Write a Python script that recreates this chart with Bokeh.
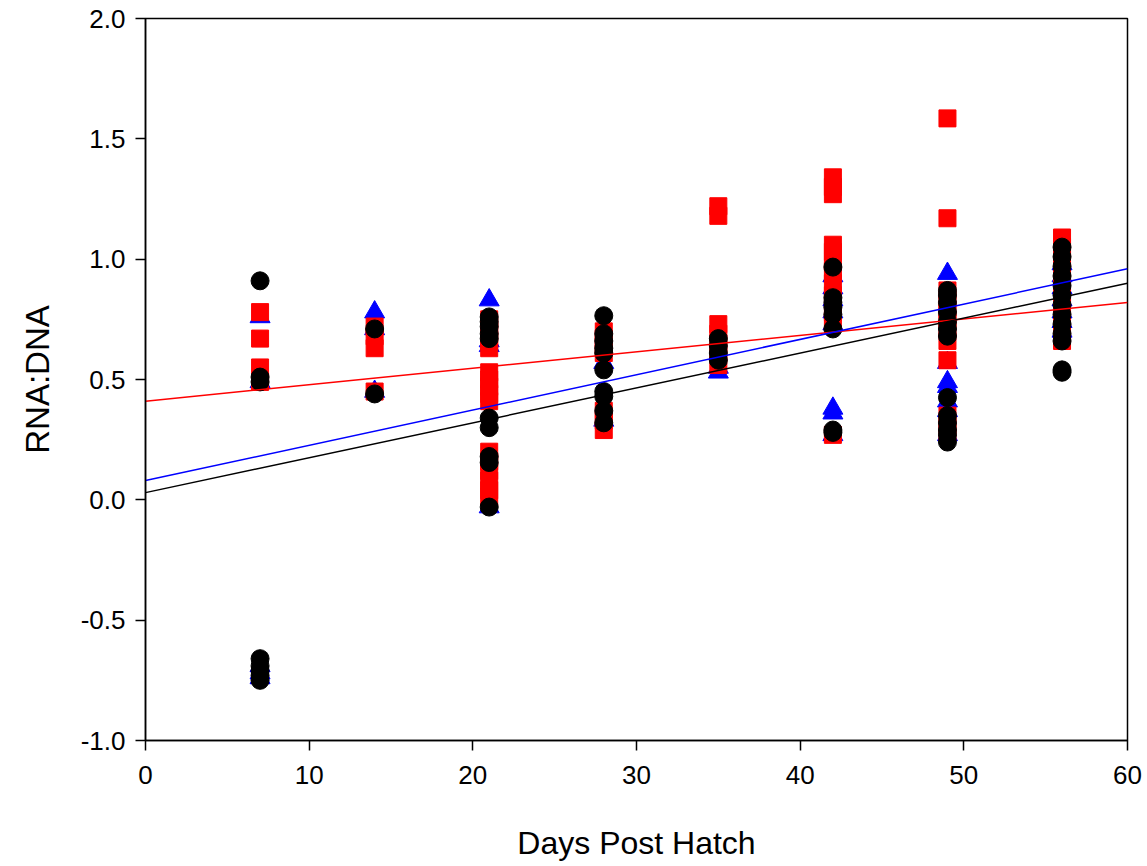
from bokeh.plotting import figure
from bokeh.models import Range1d, FixedTicker, PrintfTickFormatter
from bokeh.embed import file_html
from bokeh.resources import INLINE

# ---- data ----
days = [7, 14, 21, 28, 35, 42, 49, 56]

blue_vals = [
    [0.76, 0.49, -0.69, -0.72, -0.74],
    [0.78, 0.71, 0.45],
    [0.83, 0.66, 0.64, -0.03],
    [0.57, 0.33],
    [0.53, 0.55],
    [0.93, 0.88, 0.83, 0.78, 0.73, 0.38, 0.36, 0.27],
    [0.94, 0.57, 0.49, 0.47, 0.41, 0.37, 0.27],
    [0.98, 0.93, 0.88, 0.83, 0.78, 0.74, 0.70],
]

red_vals = [
    [0.78, 0.67, 0.55, 0.49],
    [0.72, 0.68, 0.63, 0.45],
    [0.75, 0.72, 0.70, 0.66, 0.63, 0.53, 0.50, 0.47, 0.44, 0.41,
     0.20, 0.16, 0.12, 0.08, 0.04, 0.01],
    [0.70, 0.67, 0.64, 0.61, 0.37, 0.33, 0.29],
    [1.22, 1.18, 0.73, 0.69, 0.65, 0.61, 0.56],
    [1.34, 1.30, 1.27, 1.06, 1.03, 0.99, 0.95, 0.90, 0.85, 0.78, 0.74, 0.27],
    [1.585, 1.17, 0.87, 0.83, 0.79, 0.75, 0.71, 0.66, 0.58, 0.35, 0.31, 0.28],
    [1.09, 1.05, 1.00, 0.95, 0.90, 0.85, 0.80, 0.75, 0.70, 0.66],
]

black_vals = [
    [0.91, 0.51, 0.49, -0.66, -0.69, -0.71, -0.73, -0.75],
    [0.71, 0.44],
    [0.76, 0.74, 0.72, 0.69, 0.67, 0.34, 0.30, 0.18, 0.155, -0.03],
    [0.765, 0.69, 0.66, 0.63, 0.61, 0.54, 0.45, 0.43, 0.37, 0.32],
    [0.67, 0.64, 0.61, 0.58],
    [0.967, 0.84, 0.82, 0.80, 0.77, 0.71, 0.29, 0.28],
    [0.87, 0.85, 0.82, 0.78, 0.74, 0.71, 0.68, 0.425, 0.35, 0.32, 0.29, 0.27, 0.24],
    [1.05, 1.01, 0.97, 0.93, 0.89, 0.85, 0.81, 0.77, 0.73, 0.69, 0.66, 0.54, 0.53],
]

# regression lines: intercept, value at day 60
fit_colors = ["#ff0000", "#0000ff", "black"]
fit_intercept = [0.41, 0.08, 0.03]
fit_end = [0.82, 0.96, 0.90]

x_ticks = [0, 10, 20, 30, 40, 50, 60]
y_ticks = [-1.0, -0.5, 0.0, 0.5, 1.0, 1.5, 2.0]


def flatten(vals):
    xs, ys = [], []
    for d, vs in zip(days, vals):
        for v in vs:
            xs.append(d)
            ys.append(v)
    return xs, ys


p = figure(width=1147, height=866, output_backend="svg", toolbar_location=None,
           x_range=Range1d(0, 60), y_range=Range1d(-1, 2),
           min_border_left=145, min_border_right=20, min_border_top=18,
           min_border_bottom=126)

p.xgrid.visible = False
p.ygrid.visible = False
p.outline_line_color = "black"
p.outline_line_width = 1.5
p.background_fill_color = "white"
p.border_fill_color = "white"

bx, by = flatten(blue_vals)
rx, ry = flatten(red_vals)
kx, ky = flatten(black_vals)

p.scatter(bx, by, marker="triangle", size=20, fill_color="#0000ff", line_color="#0000ff")
p.scatter(rx, ry, marker="square", size=17, fill_color="#ff0000", line_color="#ff0000")
p.scatter(kx, ky, marker="circle", size=18, fill_color="black", line_color="black")

for c, b0, b1 in zip(fit_colors, fit_intercept, fit_end):
    p.line([0, 60], [b0, b1], line_color=c, line_width=1.5)

for ax in (p.xaxis, p.yaxis):
    ax.axis_line_color = "black"
    ax.axis_line_width = 1.5
    ax.major_tick_line_color = "black"
    ax.major_tick_line_width = 1.5
    ax.major_tick_out = 10
    ax.major_tick_in = 0
    ax.minor_tick_line_color = None
    ax.major_label_text_font = "Liberation Sans"
    ax.major_label_text_font_size = "26px"
    ax.major_label_text_color = "black"
    ax.axis_label_text_font_style = "normal"
    ax.axis_label_text_color = "black"
    ax.axis_label_text_font = "Liberation Sans"

p.xaxis.ticker = FixedTicker(ticks=x_ticks)
p.yaxis.ticker = FixedTicker(ticks=y_ticks)
p.yaxis.formatter = PrintfTickFormatter(format="%.1f")
p.xaxis.formatter = PrintfTickFormatter(format="%d")

p.xaxis.major_label_standoff = 15
p.yaxis.major_label_standoff = 10

p.xaxis.axis_label = "Days Post Hatch"
p.xaxis.axis_label_text_font_size = "32px"
p.xaxis.axis_label_standoff = 38

p.yaxis.axis_label = "RNA:DNA"
p.yaxis.axis_label_text_font_size = "33px"
p.yaxis.axis_label_standoff = 22

open("out.html", "w").write(file_html(p, INLINE))
